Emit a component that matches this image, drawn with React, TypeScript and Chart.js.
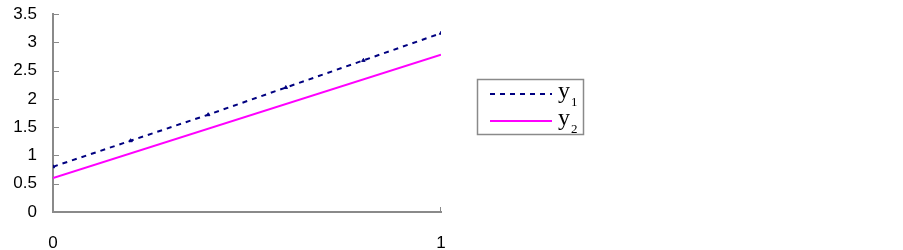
import React, { useEffect, useRef } from "react";
import { Chart, registerables } from "chart.js";

Chart.register(...registerables);

const xValuesY1 = [0, 0.2, 0.4, 0.6, 0.8, 1];
const y1Values = [0.8, 1.26, 1.72, 2.2, 2.68, 3.16];
const xValuesY2 = [0, 1];
const y2Values = [0.6, 2.78];
const seriesNames = ["1", "2"];
const yMin = 0;
const yMax = 3.5;
const yStep = 0.5;

const AXIS_GREY = "#8a8a8a";

const innerTicks = {
  id: "innerTicks",
  afterDatasetsDraw(chart: any) {
    const ctx = chart.ctx;
    const y = chart.scales.y;
    const x = chart.scales.x;
    ctx.save();
    ctx.strokeStyle = AXIS_GREY;
    ctx.lineWidth = 1;
    y.ticks.forEach((t: any) => {
      const py = Math.round(y.getPixelForValue(t.value)) + 0.5;
      ctx.beginPath();
      ctx.moveTo(x.left, py);
      ctx.lineTo(x.left + 6, py);
      ctx.stroke();
    });
    x.ticks.forEach((t: any) => {
      if (t.value === 0) return;
      const px = Math.round(x.getPixelForValue(t.value)) - 0.5;
      ctx.beginPath();
      ctx.moveTo(px, y.bottom);
      ctx.lineTo(px, y.bottom - 5);
      ctx.stroke();
    });
    ctx.restore();
  },
};

const customLegend = {
  id: "customLegend",
  afterDraw(chart: any) {
    const ctx = chart.ctx;
    ctx.save();
    ctx.strokeStyle = AXIS_GREY;
    ctx.lineWidth = 1.5;
    ctx.strokeRect(477.5, 79.5, 106, 55);
    const rows = [
      { y: 94, color: "#000080", dash: [5, 5], name: seriesNames[0] },
      { y: 121, color: "#ff00ff", dash: [], name: seriesNames[1] },
    ];
    rows.forEach((r) => {
      ctx.strokeStyle = r.color;
      ctx.lineWidth = 2;
      ctx.setLineDash(r.dash);
      ctx.beginPath();
      ctx.moveTo(490, r.y);
      ctx.lineTo(552, r.y);
      ctx.stroke();
      ctx.setLineDash([]);
      ctx.fillStyle = "#000";
      ctx.textBaseline = "alphabetic";
      ctx.textAlign = "left";
      ctx.font = "24px 'Liberation Serif'";
      ctx.fillText("y", 558, r.y + 4);
      ctx.font = "13px 'Liberation Serif'";
      ctx.fillText(r.name, 571, r.y + 12);
    });
    ctx.restore();
  },
};

export default function App() {
  const ref = useRef<HTMLCanvasElement | null>(null);
  useEffect(() => {
    if (!ref.current) return;
    const chart = new Chart(ref.current, {
      type: "scatter",
      data: {
        datasets: [
          {
            label: "y1",
            data: xValuesY1.map((x, i) => ({ x, y: y1Values[i] })),
            showLine: true,
            borderColor: "#000080",
            backgroundColor: "#000080",
            borderWidth: 2,
            borderDash: [5, 5],
            pointStyle: "triangle",
            pointRadius: 2,
            pointBorderWidth: 1,
          },
          {
            label: "y2",
            data: xValuesY2.map((x, i) => ({ x, y: y2Values[i] })),
            showLine: true,
            borderColor: "#ff00ff",
            backgroundColor: "#ff00ff",
            borderWidth: 2,
            pointRadius: 0,
          },
        ],
      },
      options: {
        animation: false,
        responsive: false,
        maintainAspectRatio: false,
        layout: { padding: { top: 14, right: 462, left: 0, bottom: 0 } },
        plugins: { legend: { display: false }, tooltip: { enabled: false } },
        scales: {
          x: {
            type: "linear",
            min: 0,
            max: 1,
            ticks: {
              stepSize: 1,
              padding: 21,
              color: "#000",
              font: { family: "'Liberation Sans'", size: 17 },
              callback: (v: any) => String(v),
            },
            grid: { display: true, drawOnChartArea: false, drawTicks: false },
            border: { display: true, color: AXIS_GREY, width: 2 },
            afterFit: (s: any) => {
              s.height = 38;
              s.paddingLeft = 0;
              s.paddingRight = 0;
              s.paddingTop = 0;
              s.paddingBottom = 0;
            },
          },
          y: {
            type: "linear",
            min: yMin,
            max: yMax,
            ticks: {
              stepSize: yStep,
              padding: 16,
              color: "#000",
              font: { family: "'Liberation Sans'", size: 17 },
              callback: (v: any) => String(v),
            },
            grid: { display: true, drawOnChartArea: false, drawTicks: false },
            border: { display: true, color: AXIS_GREY, width: 2 },
            afterFit: (s: any) => {
              s.width = 53;
              s.paddingLeft = 0;
              s.paddingRight = 0;
              s.paddingTop = 0;
              s.paddingBottom = 0;
            },
          },
        },
      },
      plugins: [innerTicks, customLegend],
    });
    return () => chart.destroy();
  }, []);
  return (
    <div style={{ position: "absolute", left: 0, top: 0, width: 903, height: 250 }}>
      <canvas ref={ref} width={903} height={250} style={{ width: 903, height: 250 }} />
    </div>
  );
}
